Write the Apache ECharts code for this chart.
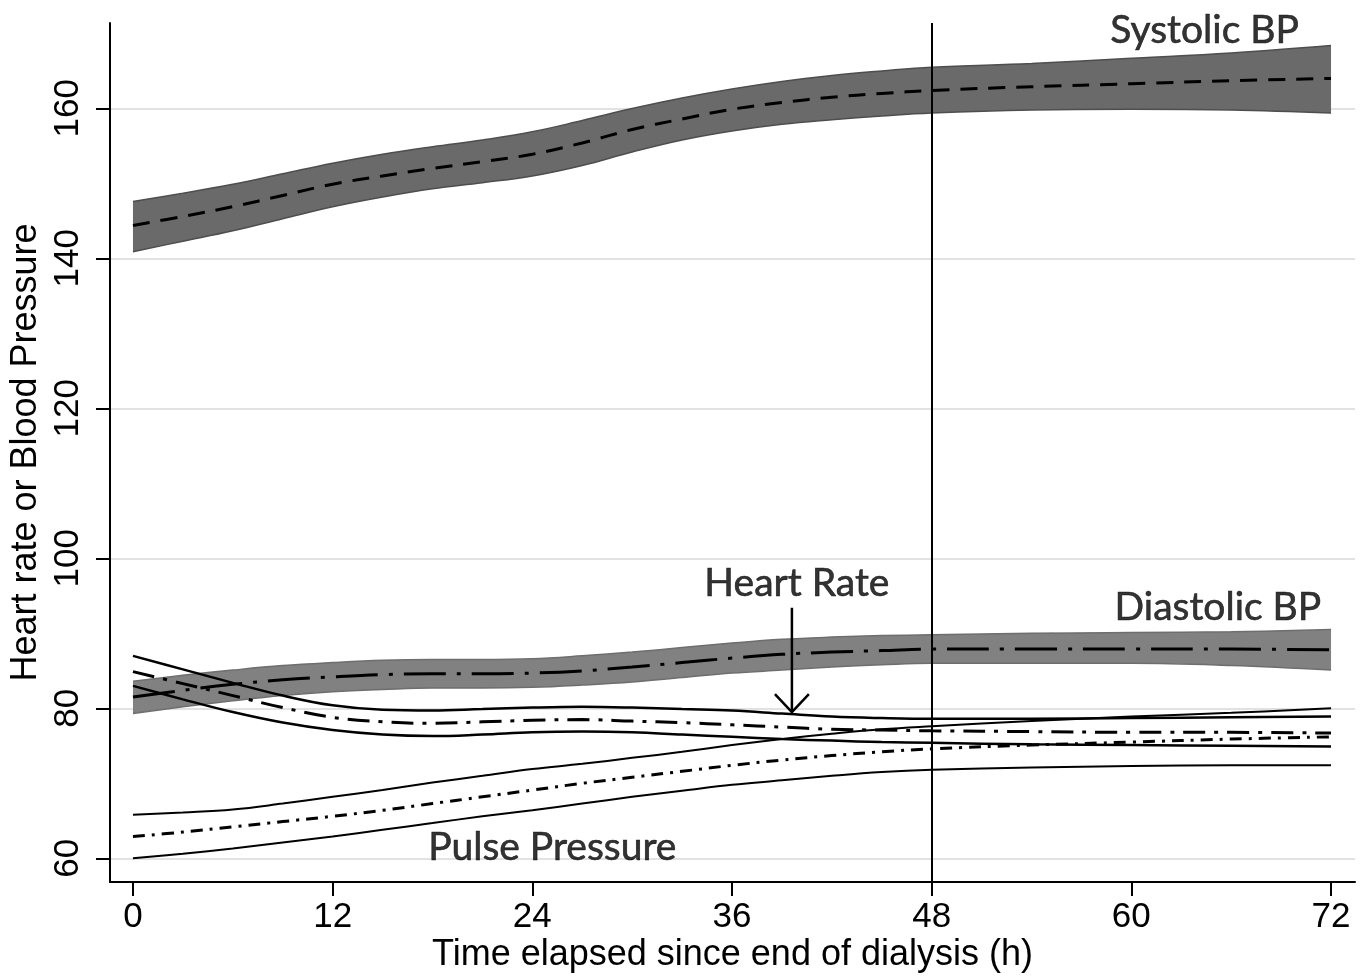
<!DOCTYPE html>
<html>
<head>
<meta charset="utf-8">
<script src="https://cdn.jsdelivr.net/npm/echarts@6/dist/echarts.min.js"></script>
<style>
  html, body { margin: 0; padding: 0; background: #fff; }
  #chart { width: 1371px; height: 979px; }
</style>
</head>
<body>
<div id="chart"></div>
<script>
// hours since end of dialysis
const hours = [0, 3, 6, 9, 12, 15, 18, 21, 24, 27, 30, 33, 36, 39, 42, 45, 48, 54, 60, 66, 72]

// systolic BP: mean and 95% band
const sysMean = [144.4, 145.6, 146.9, 148.4, 149.9, 151.0, 152.0, 152.9, 153.9, 155.4, 157.2, 158.6, 159.9, 160.8, 161.5, 162.0, 162.4, 162.9, 163.3, 163.7, 164.0]
const sysUpper = [147.6, 148.7, 149.9, 151.3, 152.7, 153.9, 154.9, 155.8, 156.9, 158.4, 160.0, 161.4, 162.6, 163.6, 164.4, 165.0, 165.5, 166.0, 166.7, 167.4, 168.4]
const sysLower = [140.9, 142.3, 143.7, 145.3, 146.9, 148.2, 149.3, 150.1, 151.0, 152.4, 154.2, 155.8, 157.0, 157.9, 158.5, 159.0, 159.4, 159.8, 159.9, 159.8, 159.4]

// diastolic BP
const diaMean = [81.5, 82.4, 83.2, 83.8, 84.2, 84.5, 84.6, 84.6, 84.7, 85.0, 85.5, 86.1, 86.7, 87.2, 87.5, 87.7, 87.9, 87.9, 87.9, 87.9, 87.8]
const diaUpper = [83.6, 84.4, 85.1, 85.7, 86.1, 86.4, 86.5, 86.5, 86.6, 87.0, 87.5, 88.1, 88.7, 89.2, 89.5, 89.7, 89.8, 90.0, 90.1, 90.2, 90.5]
const diaLower = [79.3, 80.2, 81.0, 81.7, 82.2, 82.5, 82.7, 82.7, 82.8, 83.1, 83.5, 84.1, 84.7, 85.1, 85.5, 85.8, 86.0, 86.0, 86.0, 85.7, 85.1]

// heart rate
const hrMean = [84.9, 83.3, 81.7, 80.1, 78.8, 78.2, 78.0, 78.2, 78.4, 78.5, 78.3, 78.1, 77.8, 77.5, 77.2, 77.1, 77.0, 76.9, 76.8, 76.8, 76.7]
const hrUpper = [87.0, 85.2, 83.4, 81.7, 80.4, 79.8, 79.7, 79.9, 80.1, 80.2, 80.1, 79.9, 79.7, 79.3, 78.9, 78.7, 78.6, 78.6, 78.7, 78.8, 78.9]
const hrLower = [83.0, 81.2, 79.5, 78.1, 77.1, 76.5, 76.3, 76.5, 76.8, 76.9, 76.8, 76.5, 76.2, 75.9, 75.7, 75.5, 75.4, 75.2, 75.1, 75.0, 74.9]

// pulse pressure
const ppMean = [62.9, 63.5, 64.2, 64.9, 65.6, 66.4, 67.3, 68.2, 69.1, 70.0, 70.8, 71.6, 72.4, 73.1, 73.7, 74.2, 74.6, 75.1, 75.5, 75.9, 76.2]
const ppUpper = [65.8, 66.1, 66.5, 67.3, 68.2, 69.1, 70.1, 71.0, 71.9, 72.6, 73.4, 74.2, 75.1, 75.9, 76.6, 77.2, 77.6, 78.3, 78.9, 79.4, 80.0]
const ppLower = [60.0, 60.6, 61.3, 62.1, 62.9, 63.8, 64.7, 65.6, 66.4, 67.3, 68.2, 69.0, 69.8, 70.4, 71.0, 71.5, 71.8, 72.1, 72.3, 72.4, 72.4]

// axis ticks
const xTicks = [0, 72, 12]   // min, max, step
const yTicks = [60, 160, 20]

// text labels [x, y, text]
const notes = [
  [64.4, 170.4, 'Systolic BP'],
  [65.2, 93.5, 'Diastolic BP'],
  [39.9, 96.6, 'Heart Rate'],
  [25.2, 61.4, 'Pulse Pressure']
]
const arrowShaft = [[39.6, 93.4], [39.6, 79.6]]
const arrowHead = [[38.58, 81.9], [39.6, 79.5], [40.62, 81.9]]

const axisFont = 'Liberation Sans, Arial, sans-serif'
const noteFont = 'Lato, Noto Sans, sans-serif'

function pairs(vals) {
  return hours.map((h, i) => [h, vals[i]])
}
// value first, hour second, so that stacking runs on the y value
function flipped(vals) {
  return hours.map((h, i) => [vals[i], h])
}
function diff(a, b) {
  return a.map((v, i) => +(v - b[i]).toFixed(2))
}

function band(name, upper, lower, fill, edge) {
  return [
    {
      type: 'line', xAxisIndex: 0, yAxisIndex: 0, stack: name,
      data: flipped(lower), encode: { x: 1, y: 0 },
      smooth: 0.4, symbol: 'none', silent: true,
      lineStyle: { width: 0, opacity: 0 }
    },
    {
      type: 'line', xAxisIndex: 0, yAxisIndex: 0, stack: name,
      data: flipped(diff(upper, lower)), encode: { x: 1, y: 0 },
      smooth: 0.4, symbol: 'none', silent: true,
      lineStyle: { width: 0, opacity: 0 },
      areaStyle: { color: fill, opacity: 1 }
    },
    edgeLine(upper, edge, 1.5),
    edgeLine(lower, edge, 1.5)
  ]
}

function edgeLine(vals, color, width) {
  return {
    type: 'line', xAxisIndex: 0, yAxisIndex: 0,
    data: pairs(vals), smooth: 0.4, symbol: 'none', silent: true,
    lineStyle: { color: color, width: width, type: 'solid' },
    z: 3
  }
}

function meanLine(vals, dash, width) {
  return {
    type: 'line', xAxisIndex: 0, yAxisIndex: 0,
    data: pairs(vals), smooth: 0.4, symbol: 'none', silent: true,
    lineStyle: { color: '#000', width: width, type: dash },
    z: 4
  }
}

const chartDom = document.getElementById('chart')
const myChart = echarts.init(chartDom)

const option = {
  animation: false,
  backgroundColor: '#fff',
  grid: [
    { left: 110, right: 16, top: 23, bottom: 97 },        // data
    { left: 110, right: 16, top: 108.3, bottom: 120.7 },  // y ticks
    { left: 133, right: 40, top: 23, bottom: 97 }         // x ticks
  ],
  xAxis: [
    {
      gridIndex: 0, type: 'value', min: -1.38, max: 73.44,
      axisLine: { show: true, onZero: false, lineStyle: { color: '#000', width: 2 } },
      axisTick: { show: false }, axisLabel: { show: false }, splitLine: { show: false },
      name: 'Time elapsed since end of dialysis (h)',
      nameLocation: 'middle', nameGap: 55,
      nameTextStyle: { color: '#000', fontSize: 36, fontFamily: axisFont }
    },
    { gridIndex: 1, type: 'value', min: 0, max: 1, show: false },
    {
      gridIndex: 2, type: 'value', min: xTicks[0], max: xTicks[1], interval: xTicks[2],
      axisLine: { show: false },
      axisTick: { show: true, length: 14, lineStyle: { color: '#000', width: 2 } },
      axisLabel: { color: '#000', fontSize: 35, fontFamily: axisFont, margin: 18 },
      splitLine: { show: false }
    }
  ],
  yAxis: [
    {
      gridIndex: 0, type: 'value', min: 56.84, max: 171.4,
      axisLine: { show: true, onZero: false, lineStyle: { color: '#000', width: 2 } },
      axisTick: { show: false }, axisLabel: { show: false }, splitLine: { show: false },
      name: 'Heart rate or Blood Pressure',
      nameLocation: 'middle', nameGap: 66,
      nameTextStyle: { color: '#000', fontSize: 36, fontFamily: axisFont }
    },
    {
      gridIndex: 1, type: 'value', min: yTicks[0], max: yTicks[1], interval: yTicks[2],
      axisLine: { show: false },
      axisTick: { show: true, length: 14, lineStyle: { color: '#000', width: 2 } },
      axisLabel: { color: '#000', fontSize: 35, fontFamily: axisFont, rotate: 90, margin: 24 },
      splitLine: { show: true, lineStyle: { color: '#e2e2e2', width: 2 } }
    },
    { gridIndex: 2, type: 'value', min: 0, max: 1, show: false }
  ],
  series: [
    ...band('sys', sysUpper, sysLower, '#6a6a6a', '#4e4e4e'),
    meanLine(sysMean, [17, 11], 3),
    ...band('dia', diaUpper, diaLower, '#818181', '#6e6e6e'),
    meanLine(diaMean, [42, 11, 4, 11], 3),
    edgeLine(hrUpper, '#000', 2.5),
    edgeLine(hrLower, '#000', 2.5),
    meanLine(hrMean, [22, 9, 4, 9], 3),
    edgeLine(ppUpper, '#000', 2),
    edgeLine(ppLower, '#000', 2),
    meanLine(ppMean, [12, 7, 3, 7], 3),
    {
      // vertical reference line at 48 h
      type: 'line', xAxisIndex: 0, yAxisIndex: 0, data: [], silent: true,
      markLine: {
        symbol: 'none', silent: true, animation: false,
        label: { show: false },
        lineStyle: { color: '#000', width: 2, type: 'solid' },
        data: [{ xAxis: 48 }]
      }
    },
    {
      type: 'line', xAxisIndex: 0, yAxisIndex: 0, data: arrowShaft, symbol: 'none', silent: true,
      lineStyle: { color: '#000', width: 2.5 }, z: 5
    },
    {
      type: 'line', xAxisIndex: 0, yAxisIndex: 0, data: arrowHead, symbol: 'none', silent: true,
      lineStyle: { color: '#000', width: 2.5 }, z: 5
    },
    {
      type: 'scatter', xAxisIndex: 0, yAxisIndex: 0, symbolSize: 1, silent: true,
      itemStyle: { color: 'rgba(0,0,0,0)' },
      data: notes.map(n => ({ value: [n[0], n[1]], name: n[2] })),
      label: {
        show: true, position: 'inside', formatter: '{b}',
        color: '#000', fontSize: 39, fontFamily: noteFont,
        textBorderColor: '#000', textBorderWidth: 0.6
      },
      z: 6
    }
  ]
}

option && myChart.setOption(option)
</script>
</body>
</html>
